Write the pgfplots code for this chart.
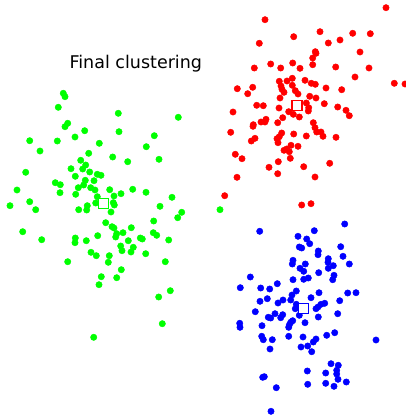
\documentclass[border=0pt]{standalone}
\usepackage{pgfplots}
\pgfplotsset{compat=1.18}
\usepackage{fontspec}
\setmainfont{DejaVu Sans}
\begin{document}
\begin{tikzpicture}
\begin{axis}[
  width=406pt, height=417pt, scale only axis,
  xmin=0, xmax=406, ymin=0, ymax=417, y dir=reverse,
  hide axis, clip=false,
]
% green cluster
\addplot[only marks, mark=*, mark size=3.2pt, color={rgb,255:red,0;green,255;blue,0}] coordinates {
(63.3,93.3)(65,96.7)(58.3,107.3)(118.3,113.3)(178.3,117.3)(67.7,123.3)(65,126.7)(84.7,130.7)
(119,131.7)(29.7,140.7)(57.3,141)(75,137)(154.3,135.7)(99.3,143.3)(146.3,146.7)(40,151)
(88.7,153.3)(112.7,157)(159,159.3)(80.7,160.3)(127.7,161.7)(85.7,165)(71,168.7)(82.7,169)
(89.7,172)(25.7,172.3)(97.3,174.3)(101,175.3)(75.3,176.3)(85.3,180.3)(94,180.7)(55.3,182.7)
(60.3,184.7)(83.7,185)(78.3,187.7)(90.7,187.7)(95,190)(17,190)(109.7,189.7)(132.7,189.3)
(60,192.7)(75.7,194.3)(121,193.7)(146,192.3)(114,196)(97.3,196.7)(172,197.3)(29.7,201.7)
(95.7,203)(113.3,202.7)(114.3,205)(10,205.7)(87.3,205.7)(35.7,209.7)(78.7,209.7)(86.7,210)
(160,206.3)(111,212)(181.7,212.3)(220,209.7)(177.7,217.7)(153.7,221)(105.7,222.7)(22.7,231.7)
(112,226.7)(114,228)(131.3,227.7)(153.3,232.7)(156.7,235.3)(116.7,233.7)(123,232.7)(115.7,237)
(97.7,235.7)(75.3,238)(140.3,238)(142.3,239)(41.7,239.7)(86.3,240.7)(128.3,240.7)(168.7,240)
(75,242.7)(120.7,246)(133.3,247.3)(122,250.7)(131,252)(91,252.3)(96.3,255.7)(109.3,255.7)
(145.7,253.7)(108.3,262.3)(67.7,261.7)(165.3,261.7)(121.3,269.7)(101.3,276.7)(116.7,277.7)
(99,284.7)(170.3,290.7)(158.7,297)(162.3,323.7)(93.7,337.3)
};
% red cluster
\addplot[only marks, mark=*, mark size=3.2pt, color={rgb,255:red,255;green,0;blue,0}] coordinates {
(386,7.7)(265,19.7)(293.7,36.7)(320,31.7)(352.7,33.3)(370.3,33.7)(259.3,43.3)(328.3,43)
(340,40)(315.3,51.7)(316,53.3)(360,52)(312.7,58)(270.7,64)(292.7,63)(312.7,64.7)
(254.3,68)(280.7,68)(300,68.3)(335.7,67)(369,68)(355,77)(394.3,83.3)(405,84)
(279.3,81.3)(287,81)(292.3,78.3)(305,80.3)(311.3,83.3)(315.3,84.3)(281,86)(292.3,85.3)
(237.3,88.7)(252.7,87.3)(326,88)(341.7,89.7)(282,89.3)(284,92.3)(295.3,90.7)(298,94)
(247.7,93.7)(280,98)(309.7,96.3)(316,98)(306.3,103)(324.3,103.7)(256.7,105.3)(263.3,105.7)
(279,108)(308.7,107.7)(337.7,107)(346,110.3)(233,112)(288.7,111.7)(293.3,114.3)(308.3,111)
(349.3,115.7)(299.3,117)(282.7,117.7)(266,119.3)(261,122)(265,122)(277.7,122.7)(313.3,122.7)
(253.3,124.7)(253,126.3)(315,127.7)(316.7,132)(321,132)(323,136.3)(230.7,132.3)(281.7,133)
(293.7,134)(306.3,136)(336,137.3)(279.3,136.7)(277,138.7)(255,138.3)(251.3,141)(278,142.7)
(291,145.3)(298,146.3)(286.7,149)(284,150.3)(289.3,151.7)(235.3,154.3)(242,158.7)(290.3,158.3)
(278.3,161.7)(329.7,163.3)(269,167.3)(303.7,166.7)(277.7,173.7)(315,177)(237,177.3)
(224.7,195.7)(301.7,205)(311,203.7)
};
% blue cluster
\addplot[only marks, mark=*, mark size=3.2pt, color={rgb,255:red,0;green,0;blue,255}] coordinates {
(344.7,224)(259.7,231.3)(298,236.3)(314.3,230.7)(306.7,239)(309.7,243.7)(299.3,247)(301.7,248)
(340.7,246.7)(318.3,251)(318,254.7)(343,256.3)(328.3,258.7)(293,260.3)(292.3,264)(305.3,264)
(328,262.3)(333.3,265.7)(349.3,264)(300,268.3)(328.3,268.3)(303.7,271.3)(318.7,272.7)(334,275.3)
(332.7,279.7)(250.3,277)(293,279.7)(303.7,279.3)(308.3,278)(277.3,283.7)(240.3,287.7)(260.7,288)
(269.7,289)(296.3,291)(319,292.7)(347.7,293)(356,292.7)(292,295)(267.3,298.7)(283,300)
(311,297.7)(260,301.3)(278,303)(290.7,300)(339.7,300.7)(324.7,303.3)(321,304.3)(296.3,304.3)
(318,307)(316,308.7)(295.3,308.7)(255.3,311.7)(275,313.7)(282.7,314.7)(299.3,315.3)(337.7,313.7)
(268.3,317.3)(270.7,318)(280.7,317.7)(318.3,317)(292.7,320.7)(290.7,322.3)(305,322.7)(239.7,323.3)
(240,327.3)(262,325.7)(289.3,325)(288.7,327.3)(288.7,336.3)(261.7,336.3)(263.3,339.7)(272.3,339.7)
(303,337)(326.7,335.3)(334.7,332.7)(316,339)(313.3,342)(301,347)(307.7,346)(270,349)
(311.7,351.7)(376,340)(331,363.7)(338.3,365.3)(336.7,370.3)(336.7,374)(307.3,371)(325.7,373)
(338,379.3)(346.3,382)(325.7,383.3)(334,386.3)(307.7,384.3)(262.7,377.3)(264.3,376.7)(276.3,387.7)
(271,411.3)
};
% centroids
\addplot[only marks, mark=square*, mark size=5pt, line width=1.3pt, color={rgb,255:red,0;green,255;blue,0}, mark options={fill=white}] coordinates {(103.7,203.3)};
\addplot[only marks, mark=square*, mark size=5pt, line width=1.3pt, color={rgb,255:red,255;green,0;blue,0}, mark options={fill=white}] coordinates {(297,105.7)};
\addplot[only marks, mark=square*, mark size=5pt, line width=1.3pt, color={rgb,255:red,0;green,0;blue,255}, mark options={fill=white}] coordinates {(303.7,308.3)};
\node[font=\fontsize{17.5}{20}\selectfont, anchor=base] at (axis cs:135.8,68.5) {Final clustering};
\end{axis}
\pgfresetboundingbox
\path (current axis.south west) rectangle (current axis.north east);
\end{tikzpicture}
\end{document}
